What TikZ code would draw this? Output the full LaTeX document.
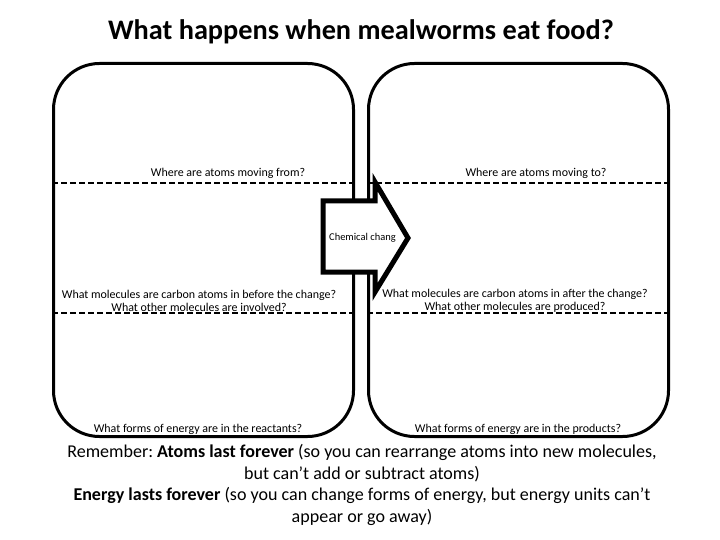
\documentclass[tikz,border=0pt]{standalone}
\usepackage{fontspec}
\setmainfont{Carlito}
\frenchspacing
\begin{document}
\begin{tikzpicture}[x=1bp,y=-1bp,
  boxstyle/.style={draw,line width=3bp,rounded corners=46bp,minimum width=300bp,minimum height=373bp,anchor=north west,inner sep=0pt},
  dashline/.style={line width=2.6bp,dash pattern=on 6bp off 3bp},
  small/.style={font=\fontsize{12}{13}\selectfont,inner sep=0pt,align=center},
  bigtext/.style={font=\fontsize{18.1}{22}\selectfont,inner sep=0pt,anchor=base}]
\useasboundingbox (0,0) rectangle (720,540);
\fill[white] (0,0) rectangle (720,540);
\node[font=\fontsize{28.4}{32}\selectfont\bfseries,inner sep=0pt,anchor=base] (title) at (361,40) {What happens when mealworms eat food?};
\node[boxstyle] (lbox) at (52,62) {};
\node[boxstyle] (rbox) at (367,62) {};
\coordinate (l1a) at (52,183); \coordinate (l1b) at (352,183);
\coordinate (r1a) at (367,183); \coordinate (r1b) at (667,183);
\coordinate (l2a) at (52,313); \coordinate (l2b) at (352,313);
\coordinate (r2a) at (367,313); \coordinate (r2b) at (667,313);
\draw[dashline] (l1a) -- (l1b);
\draw[dashline] (r1a) -- (r1b);
\draw[dashline] (l2a) -- (l2b);
\draw[dashline] (r2a) -- (r2b);
\node[small] (qfrom) at (228,173) {Where are atoms moving from?};
\node[small] (qto) at (536,173) {Where are atoms moving to?};
\node[small] (qbefore) at (199,300.5) {What molecules are carbon atoms in before the change?\\What other molecules are involved?};
\node[small] (qafter) at (515,300.5) {What molecules are carbon atoms in after the change?\\What other molecules are produced?};
\node[small] (qreact) at (198,429) {What forms of energy are in the reactants?};
\node[small] (qprod) at (518,429) {What forms of energy are in the products?};
\draw[line width=5bp,fill=white,line join=miter] (323,201) -- (375,201) -- (375,182) -- (408,238) -- (375,292) -- (375,272) -- (323,272) -- cycle;
\node[small,anchor=west,font=\fontsize{10.5}{12}\selectfont] (chem) at (329,238) {Chemical chang};
\node[bigtext] (rem1) at (362,457) {Remember: \textbf{Atoms last forever} (so you can rearrange atoms into new molecules,};
\node[bigtext] (rem2) at (362,479) {but can’t add or subtract atoms)};
\node[bigtext] (en1) at (362,500) {\textbf{Energy lasts forever} (so you can change forms of energy, but energy units can’t};
\node[bigtext] (en2) at (362,522) {appear or go away)};
\end{tikzpicture}
\end{document}
